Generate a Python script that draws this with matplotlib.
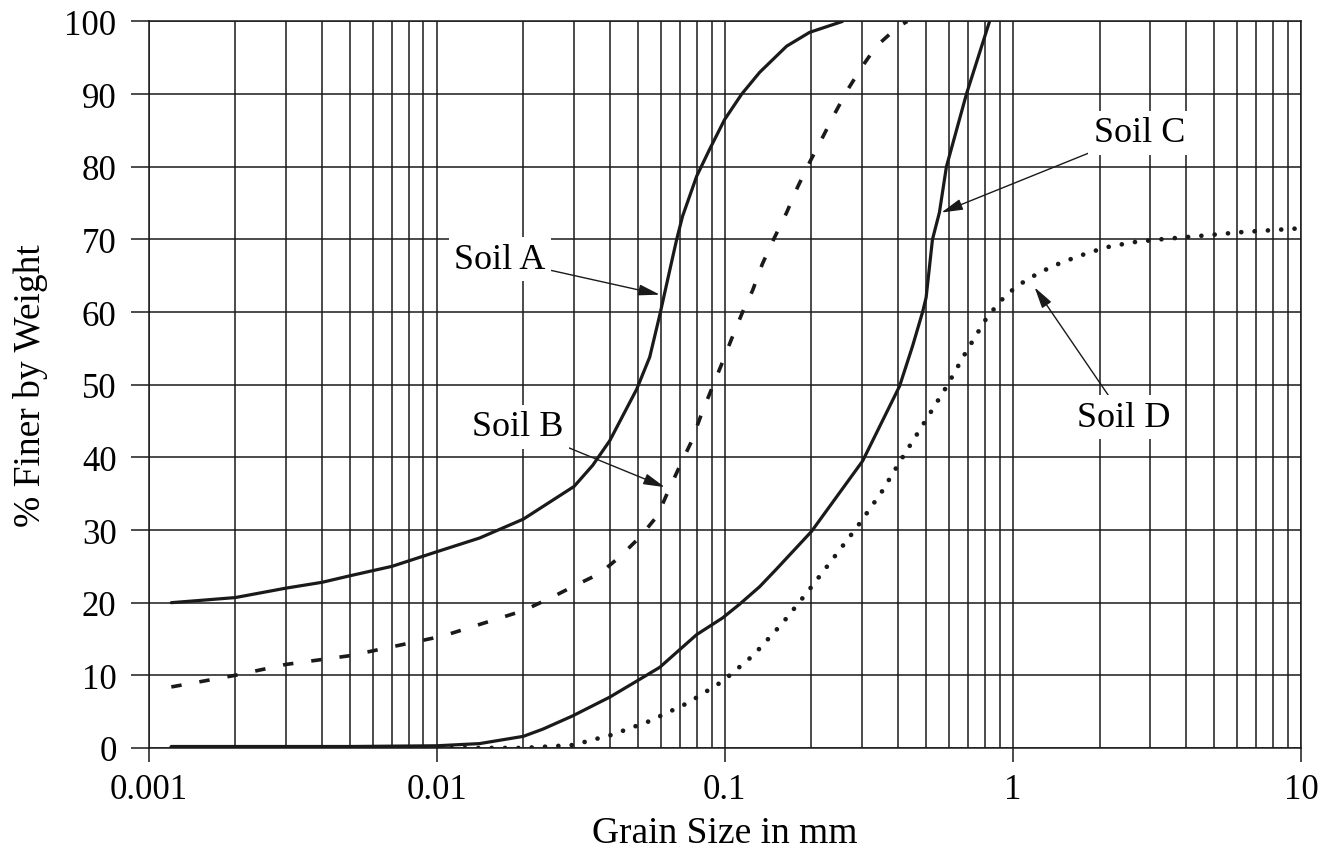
import numpy as np
import matplotlib
matplotlib.use("Agg")
import matplotlib.pyplot as plt
from matplotlib.ticker import LogLocator, NullFormatter

plt.rcParams.update({
    "font.family": ["Liberation Serif", "DejaVu Serif"],
    "font.size": 25,
    "lines.scale_dashes": False,
})

# grain size (mm) / percent finer
soil_a_x = [0.0012, 0.0015, 0.002, 0.003, 0.004, 0.005, 0.007, 0.01, 0.0141, 0.02,
            0.03, 0.0348, 0.0399, 0.0495, 0.0549, 0.0595, 0.0654, 0.0681,
            0.0714, 0.0799, 0.0886, 0.0999, 0.1145, 0.1322, 0.164, 0.197, 0.256]
soil_a_y = [20, 20.3, 20.7, 22, 22.8, 23.7, 25, 27, 28.9, 31.5,
            36, 38.9, 42.3, 49.4, 53.8, 59.6, 66.9, 70,
            73.2, 78.7, 82.4, 86.5, 90, 93, 96.6, 98.5, 100]

soil_b_x = [0.0012, 0.002, 0.003, 0.005, 0.0105, 0.02, 0.0253, 0.03, 0.0368, 0.0432,
            0.0507, 0.0585, 0.0634, 0.0698, 0.0767, 0.0831, 0.09, 0.0975, 0.1056,
            0.1153, 0.125, 0.135, 0.149, 0.164, 0.179, 0.197, 0.217, 0.24, 0.267,
            0.30, 0.336, 0.40, 0.43]
soil_b_y = [8.4, 10, 11.5, 12.7, 15.4, 18.9, 20.8, 22.3, 24, 26.3,
            29, 32, 35.2, 38.8, 42.2, 46, 49.4, 52.8, 56.3,
            60, 63, 66.6, 70.3, 73.7, 77.2, 80.6, 83.8, 87.2, 90.6,
            93.8, 96.6, 99.3, 100]

soil_c_x = [0.0012, 0.005, 0.01, 0.0141, 0.02, 0.0234, 0.0296, 0.0399, 0.049, 0.0595,
            0.0687, 0.0799, 0.0983, 0.1127, 0.1322, 0.151, 0.2, 0.301, 0.4044, 0.4485,
            0.486, 0.50, 0.526, 0.556, 0.588, 0.69, 0.83]
soil_c_y = [0.2, 0.2, 0.3, 0.6, 1.6, 2.6, 4.4, 7, 9.1, 11.1,
            13.3, 15.6, 17.9, 19.8, 22.2, 24.6, 29.8, 39.5, 49.8, 55.3,
            60, 62, 70, 73.7, 80, 90, 100]

soil_d_x = [0.0012, 0.02, 0.0297, 0.0405, 0.0549, 0.0745, 0.0985, 0.126, 0.158, 0.194,
            0.237, 0.289, 0.350, 0.414, 0.493, 0.588, 0.690, 0.817, 0.949, 1.12,
            1.37, 1.69, 2.10, 2.60, 3.23, 4.51, 6.21, 9.70]
soil_d_y = [0, 0, 0.4, 1.8, 3.7, 6.2, 9.2, 12.8, 17.1, 21.5,
            26, 30.5, 35.2, 40, 44.8, 49.7, 54.6, 59.4, 62.4, 64.5,
            66.3, 67.7, 68.9, 69.6, 70, 70.5, 71, 71.5]

labels = ["Soil A", "Soil B", "Soil C", "Soil D"]
label_xy = [(0.0166, 67.3), (0.0191, 44.2), (2.75, 84.7), (2.42, 45.5)]
arrow_tip = [(0.0595, 62.4), (0.0619, 35.9), (0.565, 73.7), (1.19, 63.4)]

fig = plt.figure(figsize=(13.32, 8.54), dpi=100)
ax = fig.add_axes([0.1115, 0.123, 0.8652, 0.8507])

ax.set_xscale("log")
ax.set_xlim(0.001, 10)
ax.set_ylim(0, 100)

ink = "#1a1a1a"
ax.plot(soil_a_x, soil_a_y, color=ink, lw=2.3, solid_joinstyle="round",
        solid_capstyle="round", zorder=3)
ax.plot(soil_b_x, soil_b_y, color=ink, lw=2.6, dashes=(7.5, 13), zorder=3)
ax.plot(soil_c_x, soil_c_y, color=ink, lw=2.3, solid_joinstyle="round",
        solid_capstyle="round", zorder=3)
ax.plot(soil_d_x, soil_d_y, color=ink, lw=3.4, dashes=(0.01, 9.6),
        dash_capstyle="round", zorder=3)

# grid at every decade subdivision and every 10 %
ax.xaxis.set_minor_locator(LogLocator(base=10, subs=np.arange(2, 10), numticks=50))
ax.xaxis.set_minor_formatter(NullFormatter())
ax.set_xticks([0.001, 0.01, 0.1, 1, 10])
ax.set_xticklabels(["0.001", "0.01", "0.1", "1", "10"])
ax.set_yticks(np.arange(0, 101, 10))
ax.grid(which="both", color=ink, lw=1.1, zorder=1)
for sp in ax.spines.values():
    sp.set_color(ink)
    sp.set_linewidth(1.1)
ax.tick_params(axis="x", which="major", direction="out", length=10, width=1.1,
               color=ink, pad=8)
ax.tick_params(axis="x", which="minor", length=0)
ax.tick_params(axis="y", direction="out", length=13, width=1.1, color=ink, pad=10)

ax.set_xlabel("Grain Size in mm", fontsize=27, labelpad=7)
ax.set_ylabel("% Finer by Weight", fontsize=27, labelpad=12)

for lab, xy, tip in zip(labels, label_xy, arrow_tip):
    ax.annotate(lab, xy=tip, xytext=xy, ha="center", va="center", fontsize=26,
                bbox=dict(boxstyle="square,pad=0.15", fc="white", ec="none"),
                arrowprops=dict(arrowstyle="-|>,head_length=0.5,head_width=0.13",
                                color=ink, lw=1.0, shrinkA=0, shrinkB=0),
                zorder=4)

fig.savefig("out.png", dpi=100)
